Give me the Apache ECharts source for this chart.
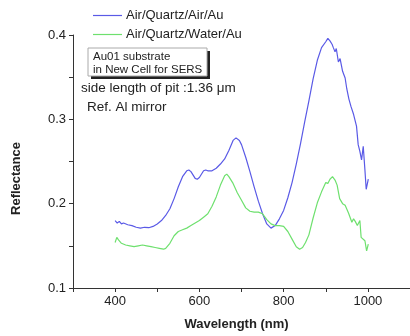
<!DOCTYPE html>
<html>
<head>
<meta charset="utf-8">
<script src="https://cdn.jsdelivr.net/npm/echarts@6/dist/echarts.min.js"></script>
<style>
  html, body { margin: 0; padding: 0; background: #fff; }
  #chart { width: 410px; height: 336px; }
</style>
</head>
<body>
<div id="chart"></div>
<script>
// wavelength (nm) and reflectance
const airX = [400, 405, 410, 415, 420, 430, 440, 450, 460, 470, 480, 490, 500, 510, 520, 530, 540, 550, 560, 570, 575, 580, 590, 595, 600, 610, 615, 620, 630, 640, 650, 660, 670, 680, 687, 695, 700, 710, 720, 730, 740, 750, 760, 770, 780, 790, 800, 810, 820, 830, 840, 850, 860, 870, 880, 890, 900, 905, 910, 915, 918, 922, 925, 930, 934, 940, 946, 950, 955, 960, 966, 973, 977, 981, 985, 989, 993, 996, 1001];
const airY = [0.180, 0.177, 0.179, 0.176, 0.177, 0.175, 0.174, 0.172, 0.171, 0.172, 0.1715, 0.173, 0.176, 0.180, 0.186, 0.194, 0.206, 0.220, 0.232, 0.239, 0.240, 0.238, 0.230, 0.229, 0.231, 0.239, 0.240, 0.239, 0.239, 0.242, 0.247, 0.253, 0.263, 0.275, 0.278, 0.275, 0.270, 0.255, 0.238, 0.220, 0.203, 0.188, 0.176, 0.171, 0.174, 0.182, 0.192, 0.207, 0.225, 0.247, 0.271, 0.297, 0.322, 0.348, 0.370, 0.385, 0.392, 0.396, 0.393, 0.389, 0.385, 0.380, 0.384, 0.368, 0.372, 0.357, 0.349, 0.336, 0.324, 0.315, 0.306, 0.292, 0.270, 0.262, 0.252, 0.268, 0.240, 0.217, 0.229];

const waterX = [400, 404, 408, 415, 425, 435, 445, 455, 465, 475, 485, 495, 505, 515, 520, 530, 540, 550, 560, 570, 580, 590, 600, 610, 620, 630, 640, 650, 660, 665, 670, 680, 690, 700, 710, 720, 730, 740, 750, 760, 770, 780, 790, 800, 810, 820, 830, 838, 845, 852, 860, 870, 880, 890, 900, 905, 910, 916, 922, 927, 933, 940, 946, 954, 962, 966, 970, 975, 978, 981, 984, 988, 993, 997, 1001];
const waterY = [0.154, 0.160, 0.157, 0.153, 0.151, 0.150, 0.149, 0.150, 0.151, 0.150, 0.149, 0.148, 0.147, 0.146, 0.147, 0.153, 0.162, 0.167, 0.169, 0.171, 0.174, 0.177, 0.180, 0.184, 0.188, 0.197, 0.208, 0.222, 0.233, 0.235, 0.232, 0.224, 0.213, 0.204, 0.195, 0.191, 0.190, 0.190, 0.188, 0.181, 0.176, 0.174, 0.174, 0.173, 0.167, 0.158, 0.149, 0.146, 0.148, 0.154, 0.163, 0.183, 0.201, 0.214, 0.225, 0.224, 0.229, 0.232, 0.228, 0.222, 0.206, 0.200, 0.198, 0.189, 0.178, 0.182, 0.179, 0.174, 0.176, 0.180, 0.160, 0.158, 0.156, 0.144, 0.152];

const seriesNames = ['Air/Quartz/Air/Au', 'Air/Quartz/Water/Au'];
const xTicks = [400, 600, 800, 1000];
const yTicks = [0.1, 0.2, 0.3, 0.4];

const font = '"Liberation Sans", Arial, sans-serif';
const pairs = (xs, ys) => xs.map((x, i) => [x, ys[i]]);

const chart = echarts.init(document.getElementById('chart'));
chart.setOption({
  animation: false,
  backgroundColor: '#fff',
  textStyle: { fontFamily: font },
  grid: { left: 73, right: -5, top: 35, bottom: 48 },
  legend: {
    orient: 'vertical',
    left: 88, top: 4,
    icon: 'rect',
    itemWidth: 29, itemHeight: 1.2, itemGap: 6,
    textStyle: { fontFamily: font, fontSize: 13, color: '#222', padding: [0, 0, 0, -1] },
    data: seriesNames
  },
  xAxis: {
    type: 'value', min: 300, max: 1100, interval: 100,
    name: 'Wavelength (nm)', nameLocation: 'middle', nameGap: 30,
    nameTextStyle: { fontFamily: font, fontSize: 13, fontWeight: 'bold', color: '#222', padding: [0, 0, 0, -10] },
    splitLine: { show: false },
    axisLine: { lineStyle: { color: '#333', width: 1 } },
    axisTick: { length: 4, lineStyle: { color: '#333' } },
    axisLabel: { fontSize: 13, color: '#222', customValues: xTicks, margin: 7, formatter: v => String(v) }
  },
  yAxis: {
    type: 'value', min: 0.1, max: 0.4, interval: 0.05,
    splitLine: { show: false },
    axisLine: { show: true, lineStyle: { color: '#333', width: 1 } },
    axisTick: { show: true, length: 4, lineStyle: { color: '#333' } },
    axisLabel: { fontSize: 13, color: '#222', margin: 7, customValues: yTicks, formatter: v => v.toFixed(1) }
  },
  graphic: [
    {
      type: 'text', left: 10, top: 142, rotation: Math.PI / 2,
      style: { text: 'Reflectance', font: 'bold 13px ' + font, fill: '#222' }
    },
    {
      type: 'rect', shape: { x: 91, y: 51, width: 119, height: 28 },
      style: { fill: '#222' }
    },
    {
      type: 'rect', shape: { x: 88, y: 48, width: 119, height: 28 },
      style: { fill: '#fff', stroke: '#aaa', lineWidth: 1 }
    },
    {
      type: 'text', x: 93, y: 50,
      style: { text: 'Au01 substrate\nin New Cell for SERS', font: '11.5px ' + font, fill: '#222', lineHeight: 13 }
    },
    {
      type: 'text', x: 81, y: 81,
      style: { text: 'side length of pit :1.36 \u03bcm', font: '13.5px ' + font, fill: '#222' }
    },
    {
      type: 'text', x: 87, y: 100,
      style: { text: 'Ref. Al mirror', font: '13.5px ' + font, fill: '#222' }
    }
  ],
  series: [
    {
      name: seriesNames[0], type: 'line', data: pairs(airX, airY),
      symbol: 'none', color: '#5a5ae6', lineStyle: { width: 1.2 }
    },
    {
      name: seriesNames[1], type: 'line', data: pairs(waterX, waterY),
      symbol: 'none', color: '#6ee06e', lineStyle: { width: 1.2 }
    }
  ]
});
</script>
</body>
</html>
